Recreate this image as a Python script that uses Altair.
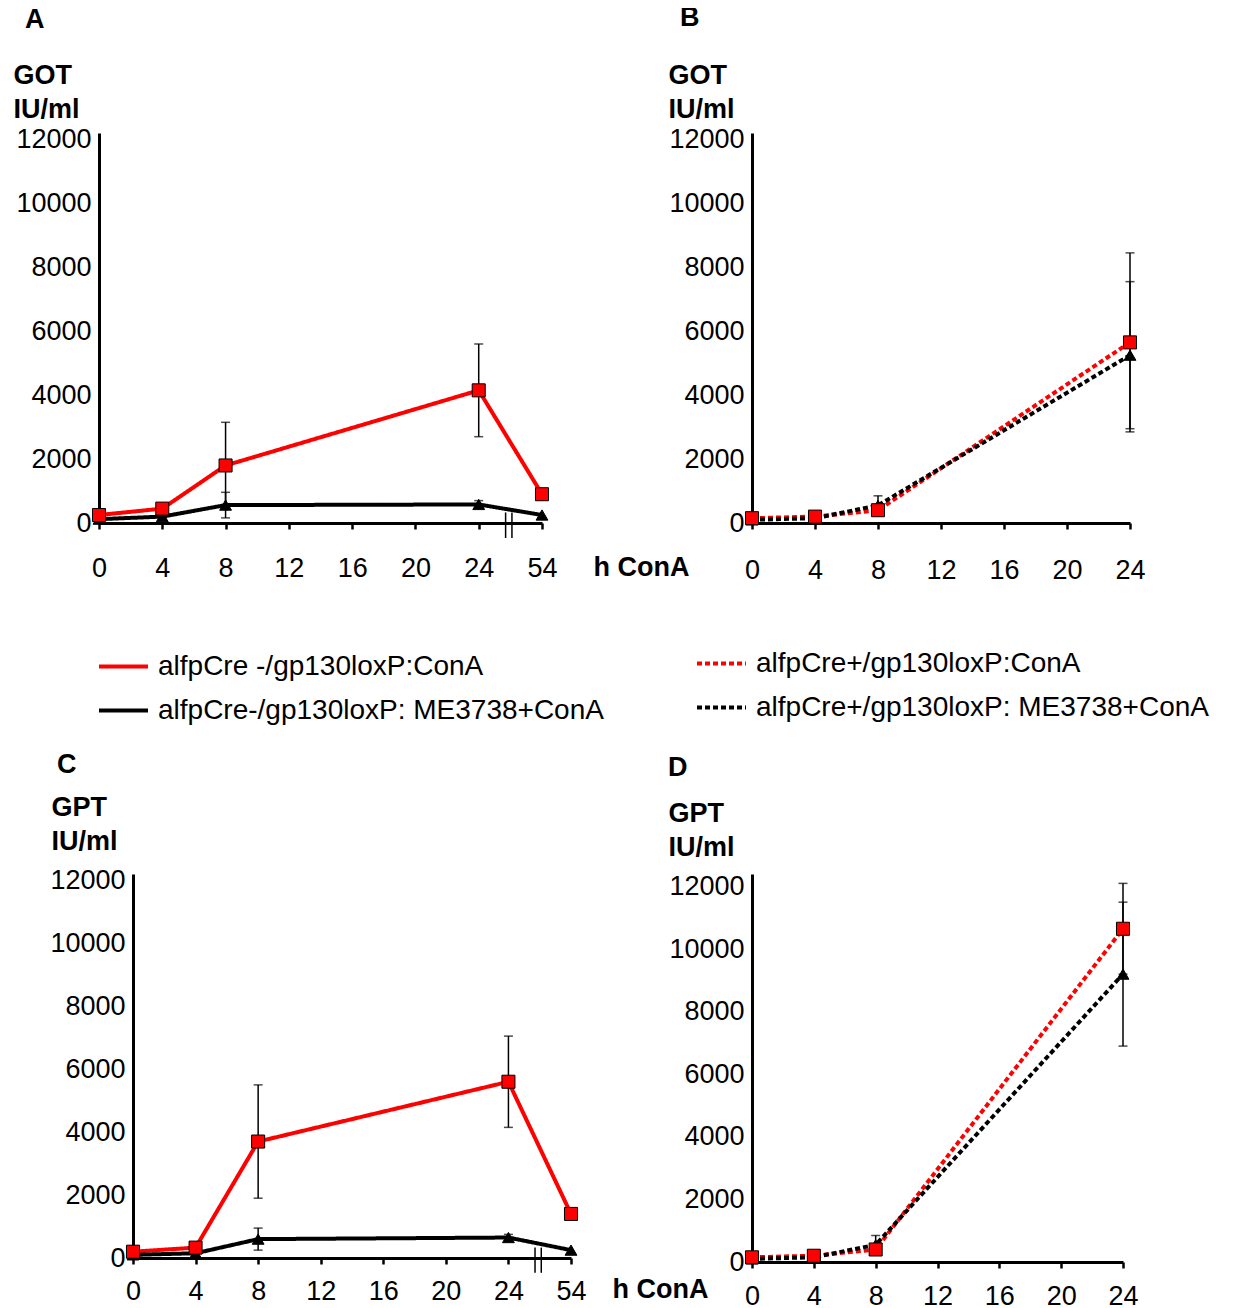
import altair as alt
import pandas as pd

FONT = "Liberation Sans"
RED = "#ff0000"
BLACK = "#000000"

# ---------------- data ----------------
hours_minus = [0, 4, 8, 24, 54]
hours_plus = [0, 4, 8, 24]
# 54 h is drawn one 4-h step after 24 h, behind an axis break
pos_minus = [0, 4, 8, 24, 28]
pos_plus = [0, 4, 8, 24]

series_minus = ["alfpCre -/gp130loxP:ConA", "alfpCre-/gp130loxP: ME3738+ConA"]
series_plus = ["alfpCre+/gp130loxP:ConA", "alfpCre+/gp130loxP: ME3738+ConA"]

got_minus_cona = [250, 450, 1800, 4150, 900]
got_minus_cona_sd = [0, 0, 1350, 1450, 0]
got_minus_me = [120, 200, 560, 580, 250]
got_minus_me_sd = [0, 0, 400, 120, 0]

got_plus_cona = [150, 200, 400, 5650]
got_plus_cona_sd = [0, 0, 0, 2800]
got_plus_me = [100, 150, 550, 5250]
got_plus_me_sd = [0, 0, 300, 2300]

gpt_minus_cona = [200, 330, 3700, 5600, 1400]
gpt_minus_cona_sd = [0, 0, 1800, 1450, 0]
gpt_minus_me = [100, 150, 600, 650, 250]
gpt_minus_me_sd = [0, 0, 350, 100, 0]

gpt_plus_cona = [150, 200, 400, 10650]
gpt_plus_cona_sd = [0, 0, 0, 1450]
gpt_plus_me = [100, 150, 550, 9200]
gpt_plus_me_sd = [0, 0, 300, 2300]

y_ticks = [0, 2000, 4000, 6000, 8000, 10000, 12000]
x_ticks_minus = [0, 4, 8, 12, 16, 20, 24, 28]
x_ticks_plus = [0, 4, 8, 12, 16, 20, 24]
break_pos = [25.7, 26.1]
break_y1 = [-470, -470]
break_y2 = [330, 330]

LABEL_SIZE = 27
TITLE_SIZE = 27
LEGEND_SIZE = 28


def build_df(pos, hours, names, v1, s1, v2, s2):
    rows = []
    for name, vals, sds in ((names[0], v1, s1), (names[1], v2, s2)):
        for p, h, v, s in zip(pos, hours, vals, sds):
            rows.append(dict(pos=p, hours=h, series=name, value=v, sd=s,
                             lo=v - s, hi=v + s))
    return pd.DataFrame(rows)


def panel(df, names, dash, xdom, xrange, xticks, width, height, ydom,
          ytitle, ytitle_x, ytitle_y, yoffset, letter, letter_dx, letter_dy,
          xtitle, xtitle_x, xtitle_y, xlabel_pad, legend_xy, with_break):
    sc_args = dict(domain=xdom, nice=False, zero=False)
    if xrange is not None:
        sc_args["range"] = xrange
    xscale = alt.Scale(**sc_args)
    yscale = alt.Scale(domain=ydom, nice=False, zero=False)

    xaxis_args = dict(
        values=xticks, labelExpr="datum.value == 28 ? '54' : datum.label",
        labelFontSize=LABEL_SIZE, labelFont=FONT, labelColor=BLACK,
        domainColor=BLACK, domainWidth=3, tickColor=BLACK, tickWidth=2.5,
        tickSize=6, labelPadding=xlabel_pad, grid=False, labelFlush=False,
        labelOverlap=False,
    )
    if xtitle:
        xaxis_args.update(title=xtitle, titleX=xtitle_x, titleY=xtitle_y,
                          titleAlign="left", titleBaseline="alphabetic",
                          titleFontSize=TITLE_SIZE, titleFontWeight="bold",
                          titleFont=FONT, titleColor=BLACK)
    else:
        xaxis_args.update(title=None)
    xaxis = alt.Axis(**xaxis_args)

    yaxis = alt.Axis(
        values=y_ticks, format="d", labelFontSize=LABEL_SIZE, labelFont=FONT,
        labelColor=BLACK, tickSize=0, labelPadding=8, domainColor=BLACK,
        domainWidth=3, grid=False, offset=yoffset,
        title=ytitle, titleAngle=0, titleAlign="left", titleBaseline="top",
        titleX=ytitle_x, titleY=ytitle_y, titleLineHeight=34,
        titleFontSize=TITLE_SIZE, titleFontWeight="bold", titleFont=FONT,
        titleColor=BLACK,
    )

    if legend_xy is not None:
        leg = alt.Legend(orient="none", legendX=legend_xy[0],
                         legendY=legend_xy[1], title=None, symbolType="stroke",
                         symbolSize=2400, symbolStrokeWidth=4,
                         labelFontSize=LEGEND_SIZE, labelFont=FONT,
                         labelColor=BLACK, labelOffset=8, rowPadding=3,
                         padding=0, labelLimit=0)
    else:
        leg = None

    base = alt.Chart(df)
    xe = alt.X("pos:Q", scale=xscale, axis=xaxis)

    line = base.mark_line(strokeWidth=4).encode(
        x=xe,
        y=alt.Y("value:Q", scale=yscale, axis=yaxis),
        color=alt.Color("series:N", scale=alt.Scale(domain=names, range=[RED, BLACK]),
                        legend=leg),
        strokeDash=alt.StrokeDash("series:N",
                                  scale=alt.Scale(domain=names, range=[dash, dash]),
                                  legend=leg),
    )
    err = base.transform_filter("datum.sd > 0").mark_rule(
        color=BLACK, strokeWidth=1.5).encode(
        x=xe, y=alt.Y("lo:Q", scale=yscale, axis=yaxis), y2="hi:Q")
    caps = base.transform_filter("datum.sd > 0").transform_fold(
        ["lo", "hi"], as_=["end", "yv"]).mark_tick(
        orient="horizontal", size=9, thickness=1.5, color=BLACK).encode(
        x=xe, y=alt.Y("yv:Q", scale=yscale, axis=yaxis))
    pts_red = base.transform_filter(alt.datum.series == names[0]).mark_point(
        shape="square", size=170, filled=True, fill=RED, stroke=BLACK,
        strokeWidth=1, opacity=1).encode(
        x=xe, y=alt.Y("value:Q", scale=yscale, axis=yaxis))
    pts_black = base.transform_filter(alt.datum.series == names[1]).mark_point(
        shape="triangle-up", size=140, filled=True, fill=BLACK, stroke=BLACK,
        strokeWidth=1, opacity=1).encode(
        x=xe, y=alt.Y("value:Q", scale=yscale, axis=yaxis))

    layers = [line, err, caps, pts_black, pts_red]
    if with_break:
        bdf = pd.DataFrame({"pos": break_pos, "y1": break_y1, "y2": break_y2})
        brk = alt.Chart(bdf).mark_rule(color=BLACK, strokeWidth=1.5).encode(
            x=alt.X("pos:Q", scale=xscale, axis=xaxis),
            y=alt.Y("y1:Q", scale=yscale, axis=yaxis), y2="y2:Q")
        layers.append(brk)

    return alt.layer(*layers).properties(
        width=width, height=height,
        title=alt.TitleParams(letter, anchor="start", frame="group",
                              dx=letter_dx, dy=letter_dy, fontSize=TITLE_SIZE,
                              fontWeight="bold", font=FONT, color=BLACK),
    )


SOLID = [1, 0]
DOTTED = [5, 3]

df_a = build_df(pos_minus, hours_minus, series_minus, got_minus_cona,
                got_minus_cona_sd, got_minus_me, got_minus_me_sd)
df_b = build_df(pos_plus, hours_plus, series_plus, got_plus_cona,
                got_plus_cona_sd, got_plus_me, got_plus_me_sd)
df_c = build_df(pos_minus, hours_minus, series_minus, gpt_minus_cona,
                gpt_minus_cona_sd, gpt_minus_me, gpt_minus_me_sd)
df_d = build_df(pos_plus, hours_plus, series_plus, gpt_plus_cona,
                gpt_plus_cona_sd, gpt_plus_me, gpt_plus_me_sd)

pa = panel(df_a, series_minus, SOLID, [0, 28], None, x_ticks_minus, 443, 390,
           [0, 12200], ["GOT", "IU/ml"], -86, -71, 0, "A", -74, -23,
           "h ConA", 494, 52, 26, (-2, 507), True)
pb = panel(df_b, series_plus, DOTTED, [0, 24], None, x_ticks_plus, 378, 390,
           [0, 12200], ["GOT", "IU/ml"], -84, -71, 0, "B", -72, -25,
           None, 0, 0, 28, (-57, 504), False)
pc = panel(df_c, series_minus, SOLID, [0, 28], [34, 472], x_ticks_minus, 472, 384,
           [0, 12200], ["GPT", "IU/ml"], -82, -80, -34, "C", -42, -10,
           "h ConA", 513, 39, 14, None, True)
pd_ = panel(df_d, series_plus, DOTTED, [0, 24], None, x_ticks_plus, 371, 388,
            [0, 12400], ["GPT", "IU/ml"], -84, -74, 0, "D", -84, -13,
            None, 0, 0, 15, None, False)

RES = dict(x="independent", y="independent", color="independent",
           strokeDash="independent")

row1 = alt.hconcat(pa, pb, spacing=210, bounds="flush").resolve_scale(**RES).resolve_legend(
    color="independent", strokeDash="independent")
row2 = alt.hconcat(pc, pd_, spacing=181, bounds="flush").resolve_scale(**RES).resolve_legend(
    color="independent", strokeDash="independent")

# nested flush groups report no height, so the spacing is measured from row 1's top
chart = alt.vconcat(row1, row2, spacing=741, bounds="flush").resolve_scale(**RES).resolve_legend(
    color="independent", strokeDash="independent").properties(
    padding={"left": 5, "top": -4, "right": 5, "bottom": 0},
    background="white",
).configure_view(stroke=None)

chart.save("out.html", embed_options={"renderer": "svg", "actions": False})
